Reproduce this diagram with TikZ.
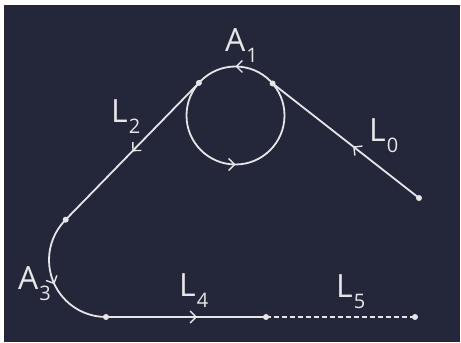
\documentclass[tikz,border=0pt]{standalone}
\usepackage{fontspec}
\setmainfont{Open Sans}
\usetikzlibrary{arrows.meta,decorations.markings}
\definecolor{bg}{HTML}{24263A}
\definecolor{fg}{HTML}{E6E6E8}
\newcommand\sublab[2]{#1\kern1pt\raisebox{-11pt}{\fontsize{20}{20}\selectfont #2}}
\begin{document}
\begin{tikzpicture}[x=1pt,y=1pt,
  route/.style={draw=fg,line width=1.8pt},
  arr/.style={postaction={decorate},decoration={markings,mark=at position #1 with {\arrow{Straight Barb[length=6pt,width=12pt,line width=1.4pt]}}}},
  dot/.style={circle,fill=fg,inner sep=0pt,minimum size=6pt},
  lab/.style={text=fg,font=\fontsize{32}{32}\selectfont,anchor=base west,inner sep=0pt}]
\useasboundingbox (0,0) rectangle (461,343);
\fill[white] (0,0) rectangle (461,343);
\fill[bg] (4,1) rectangle (460,338);
% points
\coordinate (c) at (235.5,227.5);
\coordinate (p1) at (272.6,259.5);
\coordinate (p2) at (198.9,260.1);
\coordinate (e0) at (419,145);
\coordinate (p3) at (65.69,123.31);
\coordinate (p4) at (106,26);
\coordinate (p5) at (266,26);
\coordinate (p6) at (415,26);
% paths
\draw[route,arr=0.45] (e0) -- (p1);
\draw[route,postaction={decorate},decoration={markings,
  mark=at position 0.25 with {\arrow{Straight Barb[length=6pt,width=12pt,line width=1.4pt]}},
  mark=at position 0.75 with {\arrow{Straight Barb[length=6pt,width=12pt,line width=1.4pt]}}}]
  (c) circle[radius=49];
\draw[route,arr=0.5] (p2) -- (p3);
\draw[route,arr=0.52] (p3) arc[start angle=135,end angle=270,radius=57];
\draw[route,arr=0.57] (p4) -- (p5);
\draw[route,dash pattern=on 5pt off 3pt] (p5) -- (p6);
% dots
\foreach \p in {p1,p2,e0,p3,p4,p5,p6} \node[dot] (d\p) at (\p) {};
% labels
\node[lab] (la1) at (225,291) {\sublab{A}{1}};
\node[lab] (ll2) at (111,220) {\sublab{L}{2}};
\node[lab] (ll0) at (369,201) {\sublab{L}{0}};
\node[lab] (la3) at (18,53) {\sublab{A}{3}};
\node[lab] (ll4) at (179,46) {\sublab{L}{4}};
\node[lab] (ll5) at (336,45) {\sublab{L}{5}};
\end{tikzpicture}
\end{document}
